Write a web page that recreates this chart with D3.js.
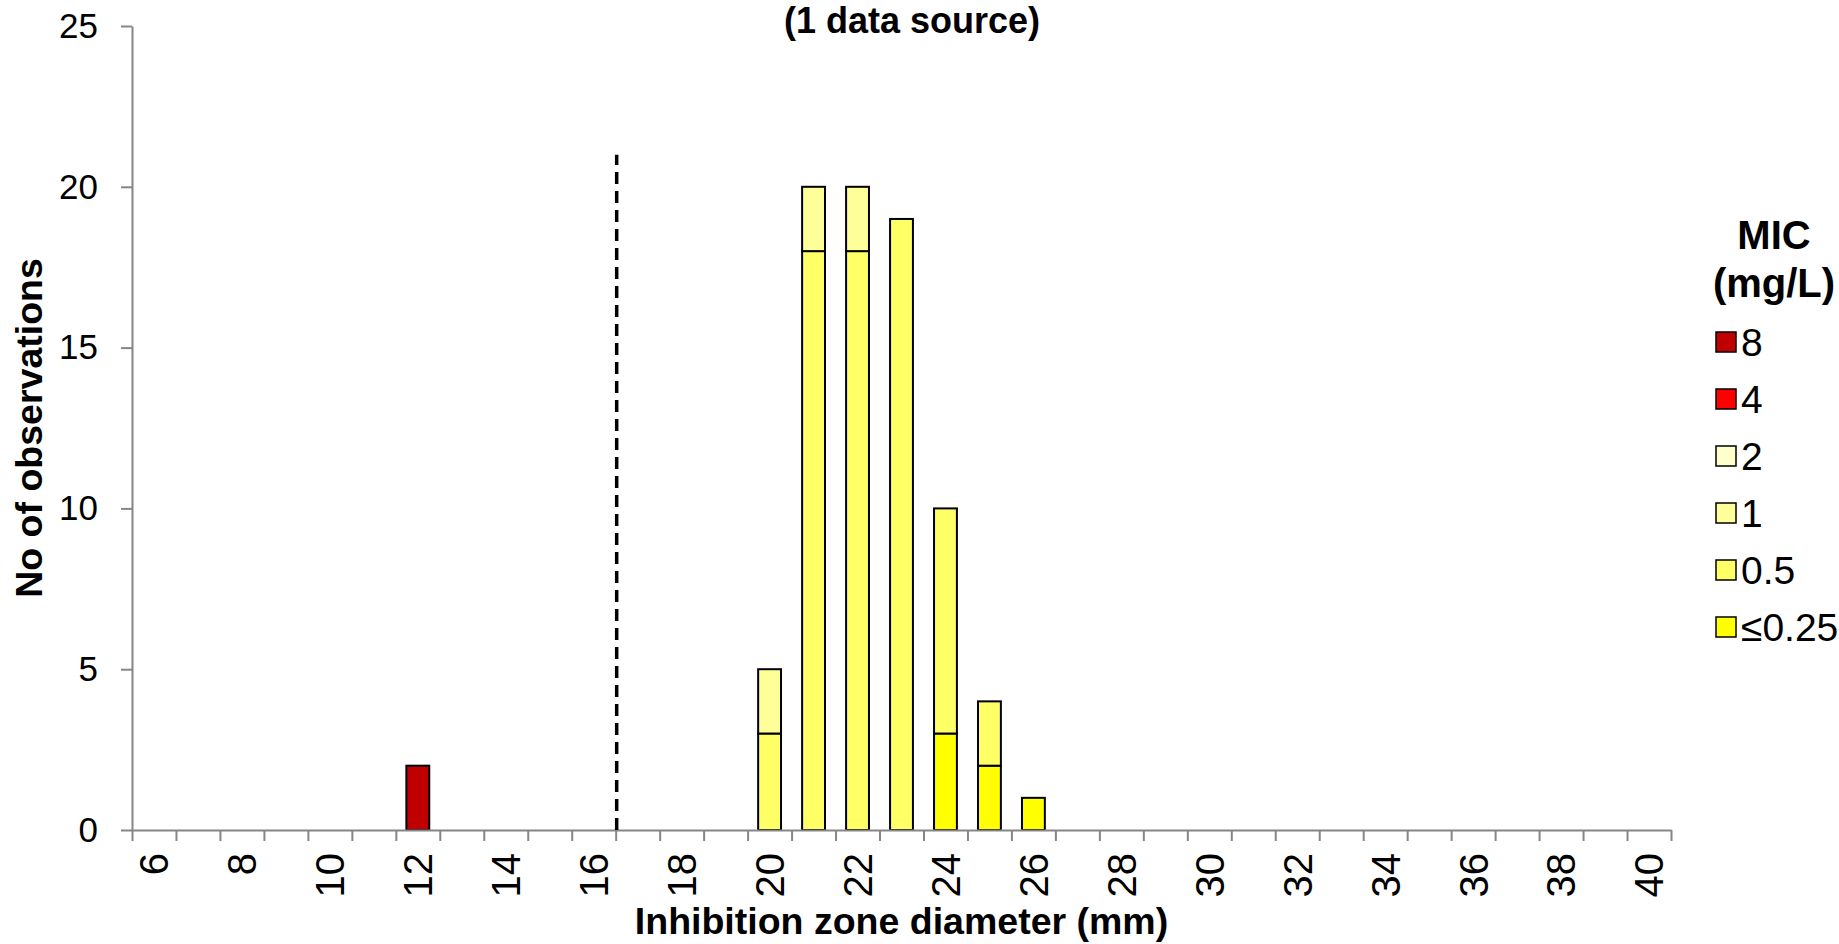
<!DOCTYPE html>
<html>
<head>
<meta charset="utf-8">
<script src="https://cdn.jsdelivr.net/npm/d3@7"></script>
<style>
  body { margin: 0; background: #fff; }
  svg { display: block; font-family: "Liberation Sans", Arial, sans-serif; }
  .axis path, .axis line { stroke: #868686; stroke-width: 2; }
  .bar { stroke: #000; stroke-width: 2; }
</style>
</head>
<body>
<script>

// zone diameters (mm), one category each
const zones = [6, 7, 8, 9, 10, 11, 12, 13, 14, 15, 16, 17, 18, 19, 20, 21, 22, 23,
               24, 25, 26, 27, 28, 29, 30, 31, 32, 33, 34, 35, 36, 37, 38, 39, 40];
const zoneLabels = [6, 8, 10, 12, 14, 16, 18, 20, 22, 24, 26, 28, 30, 32, 34, 36, 38, 40];

// zones that hold any observation
const dataZones = [12, 20, 21, 22, 23, 24, 25, 26];

// counts per MIC class, aligned with dataZones
const mic025 = [0, 0, 0, 0, 0, 3, 2, 1];
const mic05  = [0, 3, 18, 18, 19, 7, 2, 0];
const mic1   = [0, 2, 2, 2, 0, 0, 0, 0];
const mic2   = [0, 0, 0, 0, 0, 0, 0, 0];
const mic4   = [0, 0, 0, 0, 0, 0, 0, 0];
const mic8   = [2, 0, 0, 0, 0, 0, 0, 0];

const micKeys   = ['≤0.25', '0.5', '1', '2', '4', '8'];
const micColors = ['#FFFF00', '#FFFF66', '#FFFF99', '#FFFFCC', '#FF0000', '#C00000'];

const yTicks = [0, 5, 10, 15, 20, 25];
const breakpoint = 16.5;   // dashed line position, mm
const breakpointTop = 21;

const width = 1839, height = 944;
const plot = {left: 132, right: 1671, top: 26, bottom: 830};

const svg = d3.select('body').append('svg')
    .attr('width', width)
    .attr('height', height);

// rows for the stack
const series = [mic025, mic05, mic1, mic2, mic4, mic8];
const rows = dataZones.map((z, i) => {
  let r = {zone: z};
  micKeys.forEach((k, j) => r[k] = series[j][i]);
  return r;
});
const stacked = d3.stack().keys(micKeys)(rows);

const xscale = d3.scaleBand().domain(zones)
    .range([plot.left, plot.right])
    .paddingInner(0.48).paddingOuter(0.24);
const xlin = d3.scaleLinear()
    .domain([zones[0] - 0.5, zones[zones.length - 1] + 0.5])
    .range([plot.left, plot.right]);
const yscale = d3.scaleLinear().domain([0, 25]).range([plot.bottom, plot.top]);
const color = d3.scaleOrdinal().domain(micKeys).range(micColors);

// bars
svg.append('g')
  .selectAll('g')
  .data(stacked)
  .join('g')
    .attr('fill', d => color(d.key))
  .selectAll('rect')
  .data(d => d.filter(s => s[1] > s[0]))
  .join('rect')
    .attr('class', 'bar')
    .attr('x', d => xscale(d.data.zone))
    .attr('y', d => yscale(d[1]))
    .attr('width', xscale.bandwidth())
    .attr('height', d => yscale(d[0]) - yscale(d[1]));

// y axis
const yAxis = svg.append('g')
    .attr('class', 'axis')
    .attr('transform', 'translate(' + plot.left + ',0)')
    .call(d3.axisLeft(yscale).tickValues(yTicks).tickSizeInner(11).tickSizeOuter(0).tickPadding(23));
yAxis.selectAll('text')
    .attr('fill', '#000')
    .style('font-size', '35px');

// x axis: ticks at category boundaries
svg.append('g')
    .attr('class', 'axis')
    .attr('transform', 'translate(0,' + plot.bottom + ')')
    .call(d3.axisBottom(xlin)
      .tickValues(d3.range(zones[0] - 0.5, zones[zones.length - 1] + 1, 1))
      .tickFormat('').tickSizeInner(11).tickSizeOuter(0));

// x labels, rotated
svg.append('g')
  .selectAll('text')
  .data(zoneLabels)
  .join('text')
    .attr('transform', d => 'translate(' + (xscale(d) + xscale.bandwidth() / 2) + ',853) rotate(-90)')
    .attr('text-anchor', 'end')
    .attr('dy', '0.36em')
    .style('font-size', '40px')
    .text(d => d);

// breakpoint line
svg.append('line')
    .attr('x1', xlin(breakpoint) + 1).attr('x2', xlin(breakpoint) + 1)
    .attr('y1', yscale(0)).attr('y2', yscale(breakpointTop))
    .attr('stroke', '#000')
    .attr('stroke-width', 3.5)
    .attr('stroke-dasharray', '12,7');

// titles
svg.append('text')
    .attr('x', 912).attr('y', 33)
    .attr('text-anchor', 'middle')
    .style('font-size', '36px').style('font-weight', 'bold')
    .text('(1 data source)');

svg.append('text')
    .attr('x', (plot.left + plot.right) / 2).attr('y', 934)
    .attr('text-anchor', 'middle')
    .style('font-size', '37.5px').style('font-weight', 'bold')
    .text('Inhibition zone diameter (mm)');

svg.append('text')
    .attr('transform', 'translate(42,' + (plot.top + plot.bottom) / 2 + ') rotate(-90)')
    .attr('text-anchor', 'middle')
    .style('font-size', '37.5px').style('font-weight', 'bold')
    .text('No of observations');

// legend
const legend = svg.append('g');
legend.append('text')
    .attr('x', 1774).attr('y', 249)
    .attr('text-anchor', 'middle')
    .style('font-size', '40px').style('font-weight', 'bold')
    .text('MIC');
legend.append('text')
    .attr('x', 1774).attr('y', 297)
    .attr('text-anchor', 'middle')
    .style('font-size', '40px').style('font-weight', 'bold')
    .text('(mg/L)');

const items = legend.selectAll('g.item')
  .data(micKeys.slice().reverse())
  .join('g')
    .attr('class', 'item')
    .attr('transform', (d, i) => 'translate(1716,' + (342 + i * 57) + ')');
items.append('rect')
    .attr('x', 0).attr('y', -10)
    .attr('width', 20).attr('height', 20)
    .attr('fill', d => color(d))
    .attr('stroke', '#000').attr('stroke-width', 1.5);
items.append('text')
    .attr('x', 25).attr('dy', '0.36em')
    .style('font-size', '39px')
    .text(d => d);

</script>
</body>
</html>
